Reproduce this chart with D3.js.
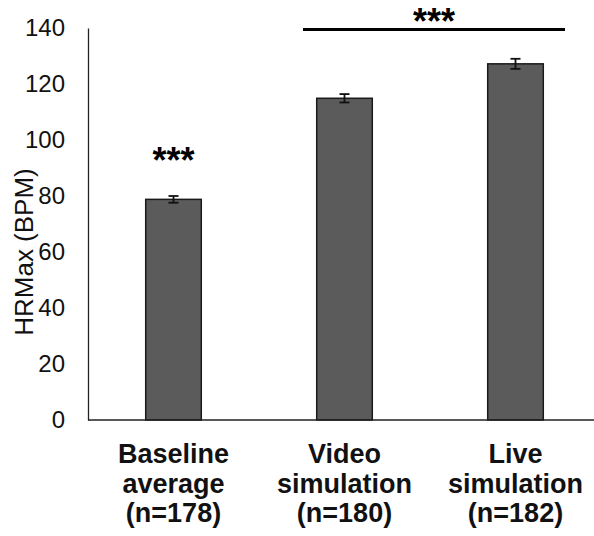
<!DOCTYPE html>
<html>
<head>
<meta charset="utf-8">
<script src="https://cdn.jsdelivr.net/npm/d3@7"></script>
<style>
  body { margin: 0; background: #fff; }
  svg { display: block; font-family: "Liberation Sans", Arial, sans-serif; }
</style>
</head>
<body>
<svg id="plot"></svg>
<script>
// data
const groups = ["Baseline average (n=178)", "Video simulation (n=180)", "Live simulation (n=182)"];
const labelLines = [["Baseline", "average", "(n=178)"], ["Video", "simulation", "(n=180)"], ["Live", "simulation", "(n=182)"]];
const hrMax = [78.8, 114.9, 127.2];
const sem = [1.2, 1.5, 1.8];
const yTicks = [0, 20, 40, 60, 80, 100, 120, 140];

const svg = d3.select("#plot")
    .attr("width", 594)
    .attr("height", 536);

const margin = { top: 28, left: 88, bottom: 420 };

// scales
const x = d3.scaleBand()
    .domain(groups)
    .range([margin.left, 601])
    .paddingInner(0.675)
    .paddingOuter(0.3375);
const y = d3.scaleLinear()
    .domain([0, 140])
    .range([margin.bottom, margin.top]);

// y axis (no tick marks)
const yAxis = svg.append("g")
    .attr("transform", `translate(${margin.left},0)`)
    .call(d3.axisLeft(y).tickValues(yTicks).tickSize(0).tickPadding(23));
yAxis.select(".domain").attr("stroke", "#222").attr("stroke-width", 1.3);
yAxis.selectAll("text")
    .attr("font-size", 24)
    .attr("font-family", "'Liberation Sans', Arial, sans-serif")
    .attr("fill", "#111");

// bars
svg.selectAll(".bar")
    .data(hrMax)
    .enter().append("rect")
    .attr("class", "bar")
    .attr("x", (d, i) => x(groups[i]))
    .attr("y", d => y(d))
    .attr("width", x.bandwidth())
    .attr("height", d => y(0) - y(d))
    .attr("fill", "#5b5b5b")
    .attr("stroke", "#1a1a1a")
    .attr("stroke-width", 1.5);

// error bars
const err = svg.selectAll(".err")
    .data(hrMax)
    .enter().append("g")
    .attr("class", "err")
    .attr("stroke", "#111")
    .attr("stroke-width", 1.8);
err.append("line")
    .attr("x1", (d, i) => x(groups[i]) + x.bandwidth() / 2)
    .attr("x2", (d, i) => x(groups[i]) + x.bandwidth() / 2)
    .attr("y1", (d, i) => y(d + sem[i]))
    .attr("y2", (d, i) => y(d - sem[i]));
[1, -1].forEach(s => {
    err.append("line")
        .attr("x1", (d, i) => x(groups[i]) + x.bandwidth() / 2 - 5)
        .attr("x2", (d, i) => x(groups[i]) + x.bandwidth() / 2 + 5)
        .attr("y1", (d, i) => y(d + s * sem[i]))
        .attr("y2", (d, i) => y(d + s * sem[i]));
});

// x axis line
svg.append("line")
    .attr("x1", margin.left)
    .attr("x2", 594)
    .attr("y1", y(0))
    .attr("y2", y(0))
    .attr("stroke", "#222")
    .attr("stroke-width", 1.5);

// category labels
labelLines.forEach((lines, i) => {
    const t = svg.append("text")
        .attr("text-anchor", "middle")
        .attr("font-size", 27)
        .attr("font-weight", "bold")
        .attr("fill", "#111");
    lines.forEach((ln, j) => {
        t.append("tspan")
            .attr("x", x(groups[i]) + x.bandwidth() / 2)
            .attr("y", 463 + j * 29.5)
            .text(ln);
    });
});

// y axis title
svg.append("text")
    .attr("transform", `translate(33,252) rotate(-90)`)
    .attr("text-anchor", "middle")
    .attr("font-size", 26)
    .attr("fill", "#111")
    .text("HRMax (BPM)");

// significance marks
const cx = i => x(groups[i]) + x.bandwidth() / 2;
svg.append("text")
    .attr("x", cx(0))
    .attr("y", 173)
    .attr("text-anchor", "middle")
    .attr("font-size", 36)
    .attr("font-weight", "bold")
    .text("***");

svg.append("line")
    .attr("x1", 303)
    .attr("x2", 565)
    .attr("y1", y(139.5))
    .attr("y2", y(139.5))
    .attr("stroke", "#000")
    .attr("stroke-width", 3);
svg.append("text")
    .attr("x", (303 + 565) / 2)
    .attr("y", 34)
    .attr("text-anchor", "middle")
    .attr("font-size", 36)
    .attr("font-weight", "bold")
    .text("***");
</script>
</body>
</html>
